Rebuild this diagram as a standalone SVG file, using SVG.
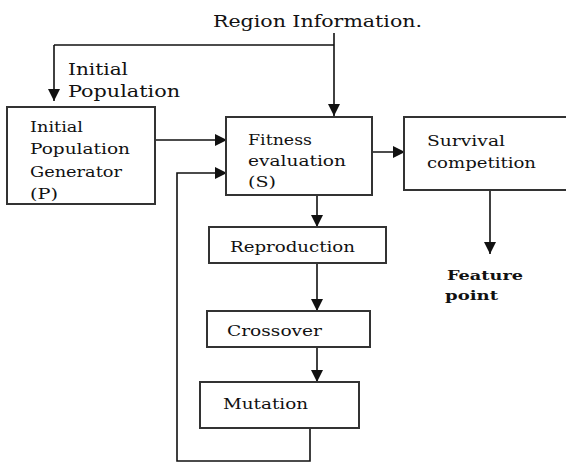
<svg xmlns="http://www.w3.org/2000/svg" width="566" height="463" viewBox="0 0 566 463">
<style>
.box{fill:#fff;stroke:#333;stroke-width:2}
.ln{fill:none;stroke:#111;stroke-width:1.6}
.t{font-family:"DejaVu Serif","Liberation Serif",serif;font-size:15px;fill:#111}
.lt{font-family:"DejaVu Serif","Liberation Serif",serif;font-size:16px;fill:#111}
.b{font-family:"DejaVu Serif","Liberation Serif",serif;font-size:13px;font-weight:bold;fill:#111}
</style>
<defs>
<marker id="ah" markerUnits="userSpaceOnUse" markerWidth="12" markerHeight="12" viewBox="0 0 12 12" refX="12" refY="6" orient="auto">
<path d="M0,0 L12,6 L0,12 z" fill="#111"/>
</marker>
</defs>
<rect width="566" height="463" fill="#fff"/>
<g id="labels">
<text class="lt" x="213" y="27" textLength="209" lengthAdjust="spacingAndGlyphs">Region Information.</text>
<text class="lt" x="68" y="75" textLength="60" lengthAdjust="spacingAndGlyphs">Initial</text>
<text class="lt" x="68" y="97" textLength="112" lengthAdjust="spacingAndGlyphs">Population</text>
</g>
<g id="connectors">
<polyline class="ln" points="54,45 334,45"/>
<line class="ln" x1="334" y1="33" x2="334" y2="116" marker-end="url(#ah)"/>
<line class="ln" x1="54" y1="45" x2="54" y2="101" marker-end="url(#ah)"/>
<line class="ln" x1="155" y1="140" x2="227" y2="140" marker-end="url(#ah)"/>
<polyline class="ln" points="310,428 310,461 177,461 177,173 227,173" marker-end="url(#ah)"/>
<line class="ln" x1="372" y1="152" x2="405" y2="152" marker-end="url(#ah)"/>
<line class="ln" x1="317" y1="195" x2="317" y2="227" marker-end="url(#ah)"/>
<line class="ln" x1="317" y1="263" x2="317" y2="311" marker-end="url(#ah)"/>
<line class="ln" x1="317" y1="347" x2="317" y2="382" marker-end="url(#ah)"/>
<line class="ln" x1="490" y1="190" x2="490" y2="254" marker-end="url(#ah)"/>
</g>
<g id="generator">
<rect class="box" x="7" y="107" width="148" height="97"/>
<text class="t" x="30" y="132" textLength="53" lengthAdjust="spacingAndGlyphs">Initial</text>
<text class="t" x="30" y="154" textLength="100" lengthAdjust="spacingAndGlyphs">Population</text>
<text class="t" x="30" y="177" textLength="92" lengthAdjust="spacingAndGlyphs">Generator</text>
<text class="t" x="30" y="199" textLength="28" lengthAdjust="spacingAndGlyphs">(P)</text>
</g>
<g id="fitness">
<rect class="box" x="226" y="117" width="146" height="78"/>
<text class="t" x="248" y="145" textLength="64" lengthAdjust="spacingAndGlyphs">Fitness</text>
<text class="t" x="248" y="166" textLength="98" lengthAdjust="spacingAndGlyphs">evaluation</text>
<text class="t" x="248" y="187" textLength="28" lengthAdjust="spacingAndGlyphs">(S)</text>
</g>
<g id="survival">
<rect class="box" x="404" y="117" width="170" height="73"/>
<text class="t" x="427" y="146" textLength="78" lengthAdjust="spacingAndGlyphs">Survival</text>
<text class="t" x="427" y="168" textLength="109" lengthAdjust="spacingAndGlyphs">competition</text>
</g>
<g id="reproduction">
<rect class="box" x="209" y="227" width="177" height="36"/>
<text class="t" x="230" y="252" textLength="125" lengthAdjust="spacingAndGlyphs">Reproduction</text>
</g>
<g id="crossover">
<rect class="box" x="207" y="311" width="163" height="36"/>
<text class="t" x="227" y="336" textLength="95" lengthAdjust="spacingAndGlyphs">Crossover</text>
</g>
<g id="mutation">
<rect class="box" x="200" y="382" width="159" height="46"/>
<text class="t" x="223" y="409" textLength="85" lengthAdjust="spacingAndGlyphs">Mutation</text>
</g>
<g id="feature">
<text class="b" x="447" y="280" textLength="76" lengthAdjust="spacingAndGlyphs">Feature</text>
<text class="b" x="445" y="300" textLength="53" lengthAdjust="spacingAndGlyphs">point</text>
</g>
</svg>
